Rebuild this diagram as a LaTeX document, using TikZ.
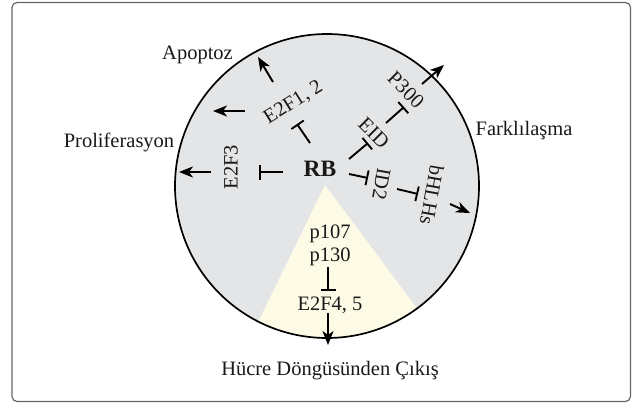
\documentclass[tikz,border=0pt]{standalone}
\usepackage{fontspec}
\setmainfont{Liberation Serif}
\usetikzlibrary{arrows.meta}
\definecolor{cgrey}{HTML}{E4E5E7}
\definecolor{cyel}{HTML}{FDFAE6}
\definecolor{frame}{HTML}{666666}
\begin{document}
\begin{tikzpicture}[x=1pt,y=-1pt,
  lbl/.style={font=\fontsize{20.5}{24}\selectfont, inner sep=0pt, text=black!90},
  act/.style={line width=1.9pt, -{Stealth[length=14pt,width=11pt,inset=4pt]}},
  inh/.style={line width=1.9pt, -{Bar[width=15pt,line width=1.9pt]}},
]
\useasboundingbox (0,0) rectangle (642,405);
\fill[white] (0,0) rectangle (642,405);
\draw[draw=frame, line width=1.2pt, rounded corners=5pt] (12,2.5) rectangle (630.5,401.5);
% cell
\begin{scope}
  \clip (327,186) circle [radius=152pt];
  \fill[cgrey] (327,186) circle [radius=152pt];
  \fill[cyel] (325,185) -- (227.5,384.5) -- (457,362) -- cycle;
\end{scope}
\draw[line width=1.7pt] (327,186) circle [radius=152pt];
% labels
\node[lbl, anchor=base] (apo) at (197.5,59) {Apoptoz};
\node[lbl, anchor=base] (pro) at (119,147) {Proliferasyon};
\node[lbl, anchor=base] (far) at (524,135) {Farklılaşma};
\node[lbl, anchor=base] (exit) at (330,375) {Hücre Döngüsünden Çıkış};
\node[font=\bfseries\fontsize{23.5}{26}\selectfont, inner sep=0pt, anchor=base, text=black!90] (rb) at (320,176) {RB};
\node[lbl, rotate=90] (e2f3) at (231,167) {E2F3};
\node[lbl, rotate=32] (e2f1) at (293.5,102.5) {E2F1, 2};
\node[lbl, rotate=-45] (eid) at (374,133) {EID};
\node[lbl, rotate=-45] (p300) at (406,90) {P300};
\node[lbl, rotate=-100] (id2) at (381.5,184) {ID2};
\node[lbl, rotate=-100] (bhlh) at (432,195) {bHLHs};
\node[lbl, anchor=base] (p107) at (330,238) {p107};
\node[lbl, anchor=base] (p130) at (330,261) {p130};
\node[lbl, anchor=base] (e2f45) at (330,310) {E2F4, 5};
% connector ends
\coordinate (rbW) at (283,172);
\coordinate (rbNW) at (310,143);
\coordinate (rbNE) at (349,159);
\coordinate (rbE) at (349,174);
\coordinate (e2f3bar) at (259,172);
\coordinate (e2f1bar) at (297,124);
\coordinate (eidbar) at (368,143);
\coordinate (eidout) at (386,123);
\coordinate (p300bar) at (404,107);
\coordinate (id2bar) at (368,178);
\coordinate (id2out) at (397,189);
\coordinate (bhlhbar) at (418,194);
\coordinate (p130out) at (328,267);
\coordinate (e2f45bar) at (328,291);
\coordinate (e2f3out) at (211,172);
\coordinate (proTip) at (179,172);
\coordinate (e2f1outL) at (245,111);
\coordinate (proTip2) at (213,111);
\coordinate (e2f1outU) at (273,82);
\coordinate (apoTip) at (258,57);
\coordinate (p300out) at (422,84);
\coordinate (farTip) at (444,65);
\coordinate (bhlhout) at (450,204);
\coordinate (farTip2) at (470,213);
\coordinate (e2f45out) at (328,313);
\coordinate (exitTip) at (328,345);
% inhibitions
\draw[inh] (rbW) -- (e2f3bar);
\draw[inh] (rbNW) -- (e2f1bar);
\draw[inh] (rbNE) -- (eidbar);
\draw[inh] (eidout) -- (p300bar);
\draw[inh] (rbE) -- (id2bar);
\draw[inh] (id2out) -- (bhlhbar);
\draw[inh] (p130out) -- (e2f45bar);
% activations
\draw[act] (e2f3out) -- (proTip);
\draw[act] (e2f1outL) -- (proTip2);
\draw[act] (e2f1outU) -- (apoTip);
\draw[act] (p300out) -- (farTip);
\draw[act] (bhlhout) -- (farTip2);
\draw[act] (e2f45out) -- (exitTip);
\end{tikzpicture}
\end{document}
